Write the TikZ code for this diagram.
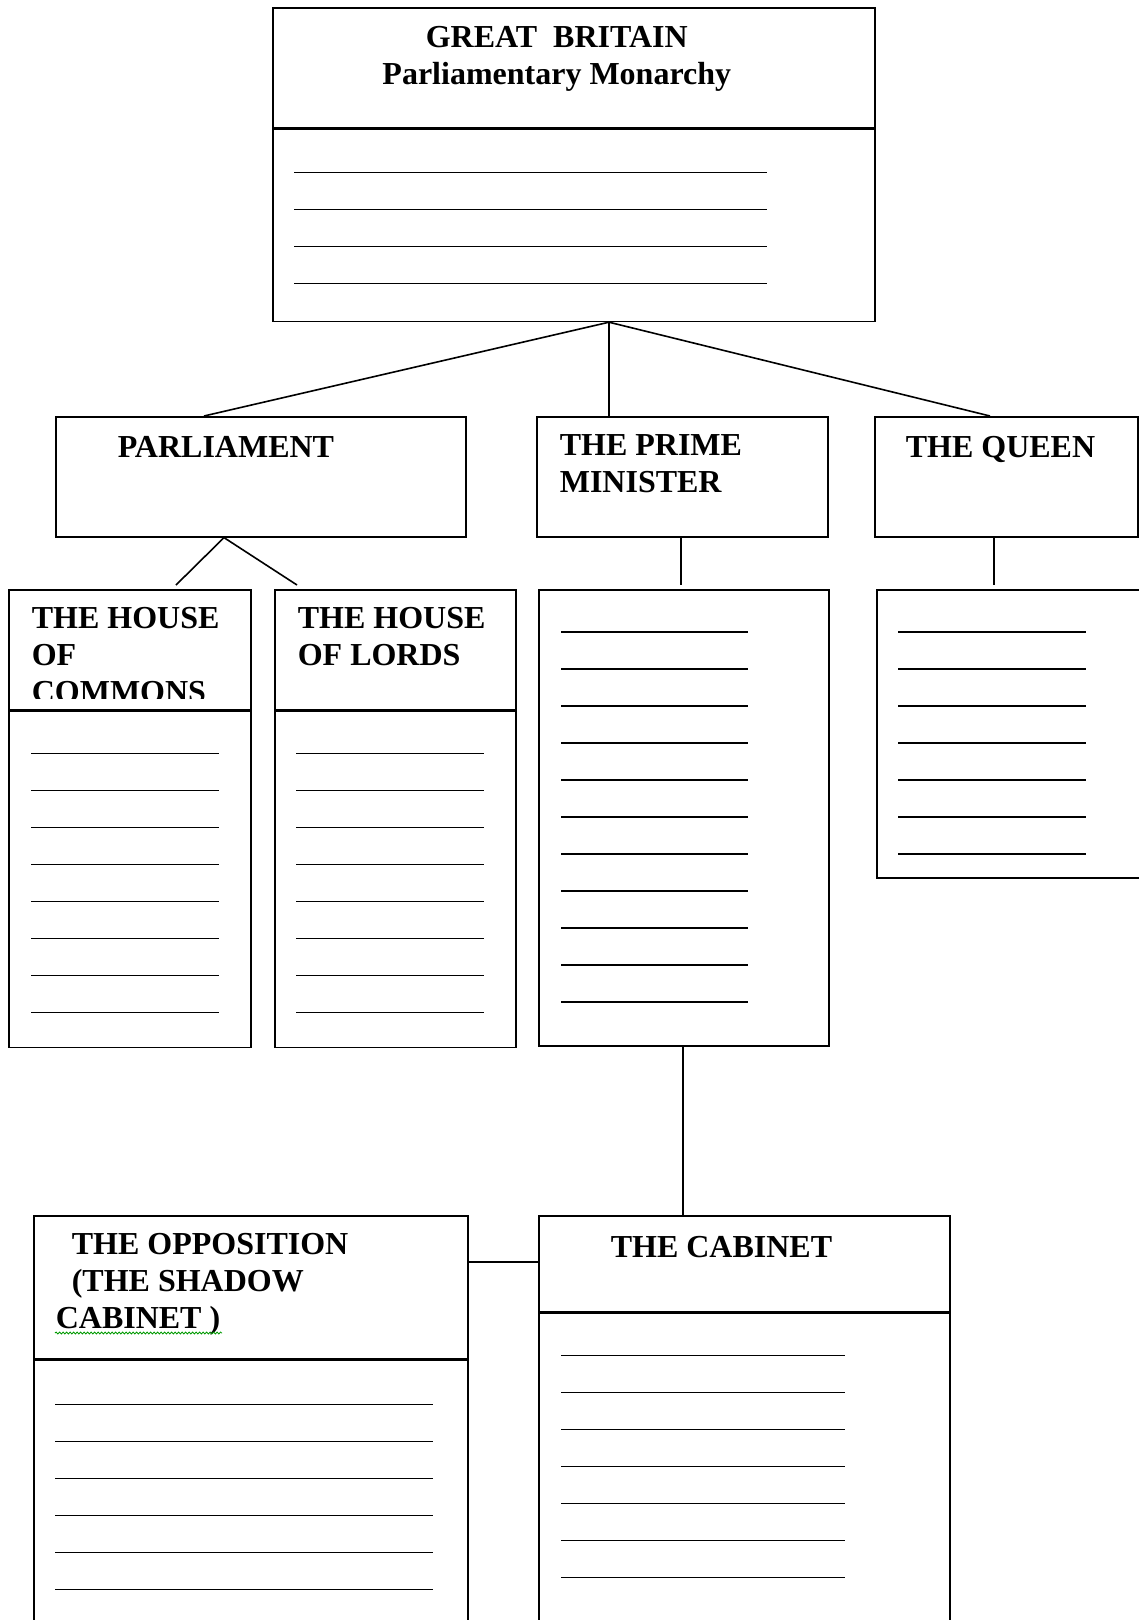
\documentclass[tikz,border=0pt]{standalone}
\usepackage{fontspec}
\setmainfont{Liberation Serif}
\usepackage{tikz}
\usetikzlibrary{positioning,decorations.pathmorphing}

\begin{document}
\begin{tikzpicture}[x=1pt, y=-1pt, line width=1.6pt,
    box/.style={rectangle, draw, inner sep=0pt, anchor=north west},
    title/.style={anchor=north west, inner sep=0pt, align=left, font=\fontsize{32}{37}\selectfont\bfseries}]
    \useasboundingbox (0,0) rectangle (1139,1620);
    \clip (0,0) rectangle (1139,1620);

    % top box
    \node (gbhead) [box, minimum width=602pt, minimum height=120pt] at (272,7) {};
    \node (gbbody) [box, below=0pt of gbhead.south west, anchor=north west, minimum width=602pt, minimum height=192pt] {};
    \node (gbtitle) [title, align=center, anchor=north] at ([shift={(-17,19)}]gbhead.north) {GREAT\ \ BRITAIN\\Parliamentary Monarchy};

    % second row
    \node (parl) [box, minimum width=410pt, minimum height=120pt] at (55,416) {};
    \node (pm) [box, minimum width=291pt, minimum height=120pt] at (536,416) {};
    \node (queen) [box, minimum width=263pt, minimum height=120pt] at (874,416) {};
    \node (parltitle) [title] at ([shift={(62,20)}]parl.north west) {PARLIAMENT};
    \node (pmtitle) [title] at ([shift={(23,18)}]pm.north west) {THE PRIME\\MINISTER};
    \node (queentitle) [title] at ([shift={(31,20)}]queen.north west) {THE QUEEN};

    % houses
    \node (commons) [box, minimum width=242pt, minimum height=120pt] at (8,589) {};
    \node (commonsbody) [box, below=0pt of commons.south west, anchor=north west, minimum width=242pt, minimum height=336pt] {};
    \node (lords) [box, minimum width=241pt, minimum height=120pt] at (274,589) {};
    \node (lordsbody) [box, below=0pt of lords.south west, anchor=north west, minimum width=241pt, minimum height=336pt] {};
    \begin{scope}
        \clip (commons.north west) rectangle ([yshift=12pt]commons.south east);
        \node (commonstitle) [title] at ([shift={(23,18)}]commons.north west) {THE HOUSE\\OF\\COMMONS};
    \end{scope}
    \node (lordstitle) [title] at ([shift={(23,18)}]lords.north west) {THE HOUSE\\OF LORDS};

    % lists under the prime minister and the queen
    \node (pmbody) [box, minimum width=290pt, minimum height=456pt] at (538,589) {};
    \node (queenbody) [box, minimum width=300pt, minimum height=288pt] at (876,589) {};

    % bottom row
    \node (opp) [box, minimum width=434pt, minimum height=143pt] at (33,1215) {};
    \node (oppbody) [box, below=0pt of opp.south west, anchor=north west, minimum width=434pt, minimum height=300pt] {};
    \node (cab) [box, minimum width=411pt, minimum height=96pt] at (538,1215) {};
    \node (cabbody) [box, below=0pt of cab.south west, anchor=north west, minimum width=411pt, minimum height=340pt] {};
    \node (opptitle) [title] at ([shift={(22,17)}]opp.north west) {\hspace*{16pt}THE OPPOSITION\\\hspace*{16pt}(THE SHADOW\\CABINET )};
    \node (cabtitle) [title] at ([shift={(72,20)}]cab.north west) {THE CABINET};
    \draw [green!60!black, line width=0.8pt, decorate, decoration={snake, amplitude=1pt, segment length=3.5pt}]
        ([shift={(22,118)}]opp.north west) -- ++(167,0);

    % writing lines
    \foreach \i in {0,...,3}
        \draw ([shift={(22,44+37*\i)}]gbbody.north west) -- ++(473,0);
    \foreach \i in {0,...,7} {
        \draw ([shift={(23,43+37*\i)}]commonsbody.north west) -- ++(188,0);
        \draw ([shift={(22,43+37*\i)}]lordsbody.north west) -- ++(188,0);
    }
    \foreach \i in {0,...,10}
        \draw ([shift={(23,43+37*\i)}]pmbody.north west) -- ++(187,0);
    \foreach \i in {0,...,6}
        \draw ([shift={(22,43+37*\i)}]queenbody.north west) -- ++(188,0);
    \foreach \i in {0,...,5}
        \draw ([shift={(22,45+37*\i)}]oppbody.north west) -- ++(378,0);
    \foreach \i in {0,...,6}
        \draw ([shift={(23,43+37*\i)}]cabbody.north west) -- ++(284,0);

    % connectors
    \draw ([xshift=337pt]gbbody.south west) -- ([xshift=149pt]parl.north west);
    \draw ([xshift=337pt]gbbody.south west) -- ([xshift=73pt]pm.north west);
    \draw ([xshift=337pt]gbbody.south west) -- ([xshift=116pt]queen.north west);
    \draw ([xshift=169pt]parl.south west) -- ([shift={(168,-4)}]commons.north west);
    \draw ([xshift=169pt]parl.south west) -- ([shift={(23,-4)}]lords.north west);
    \draw ([xshift=145pt]pm.south west) -- ([shift={(143,-4)}]pmbody.north west);
    \draw ([xshift=120pt]queen.south west) -- ([shift={(118,-4)}]queenbody.north west);
    \draw ([xshift=145pt]pmbody.south west) -- ([xshift=145pt]cab.north west);
    \draw ([yshift=-47pt]opp.north east) -- ([yshift=-47pt]cab.north west);
\end{tikzpicture}
\end{document}
